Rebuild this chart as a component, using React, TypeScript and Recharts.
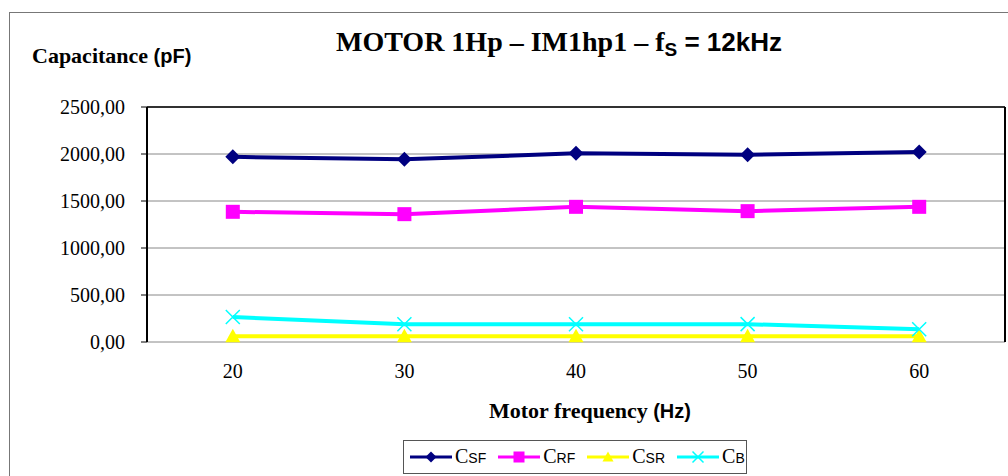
import React from 'react'
import {
  LineChart,
  Line,
  XAxis,
  YAxis,
  CartesianGrid,
  ReferenceLine,
} from 'recharts'

// motor frequency (Hz)
const frequencies = [20, 30, 40, 50, 60]
// capacitances in pF
const csf = [1970, 1943, 2007, 1992, 2021]
const crf = [1385, 1360, 1438, 1392, 1438]
const csr = [62, 60, 60, 60, 60]
const cb = [266, 188, 188, 190, 135]

const yTicks = [0, 500, 1000, 1500, 2000, 2500]
const xTicks = [20, 30, 40, 50, 60]
const cellEdges = [15, 25, 35, 45, 55, 65]

const data = frequencies.map((f, i) => ({
  f,
  csf: csf[i],
  crf: crf[i],
  csr: csr[i],
  cb: cb[i],
}))

const SERIF = '"Liberation Serif", "Times New Roman", serif'
const SANS = '"Liberation Sans", Arial, sans-serif'

const NAVY = '#000080'
const MAGENTA = '#ff00ff'
const YELLOW = '#ffff00'
const CYAN = '#00ffff'

type DotProps = { cx?: number; cy?: number }

const diamond = (color: string, r = 7.5) => (p: DotProps) => {
  const { cx = 0, cy = 0 } = p
  return (
    <path
      key={`${cx}-${cy}`}
      d={`M${cx},${cy - r} L${cx + r},${cy} L${cx},${cy + r} L${cx - r},${cy} Z`}
      fill={color}
    />
  )
}

const square = (color: string, r = 7) => (p: DotProps) => {
  const { cx = 0, cy = 0 } = p
  return <rect key={`${cx}-${cy}`} x={cx - r} y={cy - r} width={r * 2} height={r * 2} fill={color} />
}

const triangle = (color: string, r = 7.5) => (p: DotProps) => {
  const { cx = 0, cy = 0 } = p
  return (
    <path
      key={`${cx}-${cy}`}
      d={`M${cx},${cy - r} L${cx + r},${cy + r * 0.8} L${cx - r},${cy + r * 0.8} Z`}
      fill={color}
    />
  )
}

const cross = (color: string, r = 7) => (p: DotProps) => {
  const { cx = 0, cy = 0 } = p
  return (
    <path
      key={`${cx}-${cy}`}
      d={`M${cx - r},${cy - r} L${cx + r},${cy + r} M${cx + r},${cy - r} L${cx - r},${cy + r}`}
      stroke={color}
      strokeWidth={1.5}
      fill="none"
    />
  )
}

const series = [
  { key: 'csf', color: NAVY, sub: 'SF', marker: diamond },
  { key: 'crf', color: MAGENTA, sub: 'RF', marker: square },
  { key: 'csr', color: YELLOW, sub: 'SR', marker: triangle },
  { key: 'cb', color: CYAN, sub: 'B', marker: cross },
]

const fmt = (v: number) => v.toFixed(2).replace('.', ',')

function Legend() {
  return (
    <div
      style={{
        position: 'absolute',
        left: 403,
        top: 440,
        width: 344,
        height: 34,
        border: '1px solid #555',
        display: 'flex',
        alignItems: 'center',
        paddingLeft: 6,
        boxSizing: 'border-box',
        gap: 12,
        background: '#fff',
      }}
    >
      {series.map((s) => {
        const M = s.marker(s.color, 5.5)
        return (
          <div key={s.key} style={{ display: 'flex', alignItems: 'center' }}>
            <svg width={42} height={16}>
              <line x1={0} y1={8} x2={42} y2={8} stroke={s.color} strokeWidth={3} />
              {M({ cx: 21, cy: 8 })}
            </svg>
            <span style={{ fontSize: 20, marginLeft: 3, fontFamily: SERIF, lineHeight: '20px' }}>
              C<span style={{ fontSize: 14, fontFamily: SANS }}>{s.sub}</span>
            </span>
          </div>
        )
      })}
    </div>
  )
}

export default function App() {
  return (
    <div
      style={{
        position: 'fixed',
        left: 0,
        top: 0,
        width: 1008,
        height: 476,
        overflow: 'hidden',
        background: '#fff',
      }}
    >
      <div
        style={{
          position: 'absolute',
          left: 9,
          top: 12,
          width: 1100,
          height: 600,
          border: '1px solid #777',
        }}
      />
      <LineChart
        width={1008}
        height={476}
        data={data}
        margin={{ top: 107, right: 3, left: 87, bottom: 104 }}
        style={{ position: 'absolute', left: 0, top: 0 }}
      >
        <CartesianGrid xAxisId="grid" stroke="#888" strokeWidth={1} />
        <XAxis
          xAxisId="grid"
          dataKey="f"
          type="number"
          domain={[15, 65]}
          ticks={cellEdges}
          tick={false}
          tickSize={6}
          height={0}
          axisLine={{ stroke: '#000', strokeWidth: 2 }}
          tickLine={{ stroke: '#000' }}
          allowDataOverflow
        />
        <XAxis
          dataKey="f"
          type="number"
          domain={[15, 65]}
          ticks={xTicks}
          tickLine={false}
          axisLine={false}
          tickSize={0}
          tickMargin={22}
          height={30}
          tick={{ fill: '#000', fontSize: 20, fontFamily: SERIF }}
        />
        <YAxis
          domain={[0, 2500]}
          ticks={yTicks}
          width={60}
          tickSize={6}
          tickMargin={16}
          tickFormatter={fmt}
          axisLine={{ stroke: '#000', strokeWidth: 2 }}
          tickLine={{ stroke: '#000' }}
          tick={{ fill: '#000', fontSize: 20, fontFamily: SERIF }}
        />
        <ReferenceLine xAxisId="grid" x={65} stroke="#000" strokeWidth={2} />
        <ReferenceLine xAxisId="grid" y={2500} stroke="#000" strokeWidth={1.5} />
        {series.map((s) => (
          <Line
            key={s.key}
            dataKey={s.key}
            type="linear"
            stroke={s.color}
            strokeWidth={4}
            dot={s.marker(s.color)}
            activeDot={false}
            isAnimationActive={false}
          />
        ))}
      </LineChart>

      <svg
        width={1008}
        height={476}
        style={{ position: 'absolute', left: 0, top: 0, pointerEvents: 'none' }}
      >
        <text x={559} y={51} textAnchor="middle" fontWeight="bold" fontSize={28} fontFamily={SERIF}>
          MOTOR 1Hp – IM1hp1 – f
          <tspan fontFamily={SANS} fontSize={19} dy={5}>S</tspan>
          <tspan fontFamily={SANS} fontSize={26} dy={-5}> = 12kHz</tspan>
        </text>
        <text x={32} y={63} fontWeight="bold" fontSize={22} fontFamily={SERIF}>
          Capacitance <tspan fontFamily={SANS} fontSize={20}>(pF)</tspan>
        </text>
        <text x={590} y={418} textAnchor="middle" fontWeight="bold" fontSize={22} fontFamily={SERIF}>
          Motor frequency <tspan fontFamily={SANS} fontSize={20}>(Hz)</tspan>
        </text>
      </svg>

      <Legend />
    </div>
  )
}
